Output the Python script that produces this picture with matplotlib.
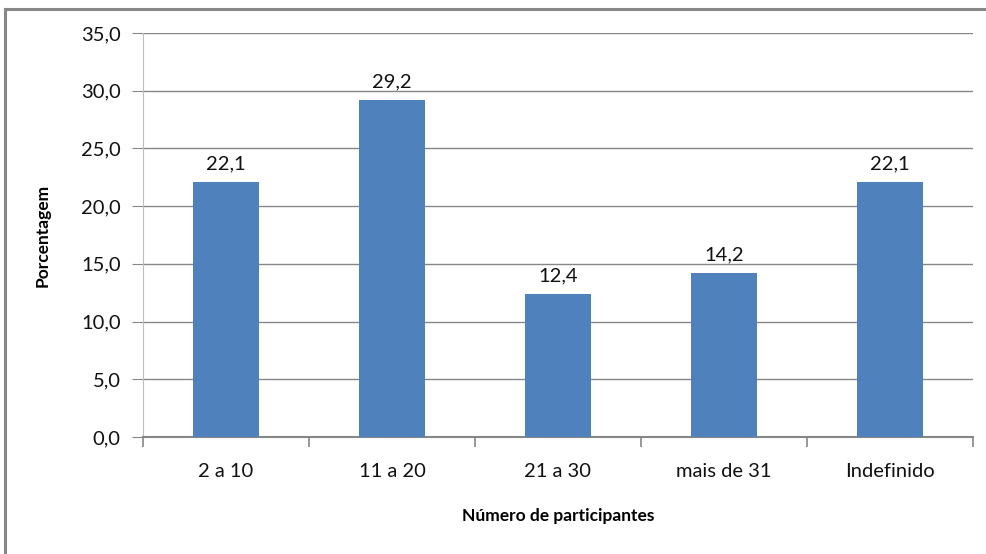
import numpy as np
import matplotlib
matplotlib.use("Agg")
import matplotlib.pyplot as plt
from matplotlib.lines import Line2D

# Dados do grafico
categorias = ['2 a 10', '11 a 20', '21 a 30', 'mais de 31', 'Indefinido']
valores = [22.1, 29.2, 12.4, 14.2, 22.1]
yticks = [0, 5, 10, 15, 20, 25, 30, 35]

plt.rcParams['font.family'] = ['Lato', 'DejaVu Sans']

W, H = 987, 554
fig = plt.figure(figsize=(W / 100, H / 100), dpi=100)
ax = fig.add_axes([143 / W, 1 - 437 / H, (973 - 143) / W, (437 - 33) / H])

# moldura (so lado esquerdo e superior visiveis)
fig.add_artist(Line2D([5.5 / W, 5.5 / W], [0, 1 - 8.5 / H], color='#878787', lw=2.2, transform=fig.transFigure))
fig.add_artist(Line2D([5.5 / W, 1], [1 - 8.5 / H, 1 - 8.5 / H], color='#878787', lw=2.2, transform=fig.transFigure))

x = np.arange(len(categorias))
ax.bar(x, valores, width=0.4, color='#4F81BD', zorder=3)
for xi, v in zip(x, valores):
    ax.text(xi, v + 0.8, f'{v:.1f}'.replace('.', ','), ha='center', va='bottom', fontsize=14.5, color='#111111')

ax.set_xlim(-0.5, len(categorias) - 0.5)
ax.set_ylim(0, 35)
ax.set_yticks(yticks)
ax.set_yticklabels([f'{t:.1f}'.replace('.', ',') for t in yticks])
ax.set_xticks(x)
ax.set_xticklabels(categorias)
ax.set_xticks(np.arange(-0.5, len(categorias), 1), minor=True)

ax.grid(axis='y', color='#868686', lw=1.0, zorder=0)
for s in ['top', 'right']:
    ax.spines[s].set_visible(False)
ax.spines['left'].set_color('#BDBDBD')
ax.spines['bottom'].set_color('#868686')
ax.spines['bottom'].set_linewidth(1.5)
ax.tick_params(axis='y', length=8, color='#868686', labelsize=14.5, pad=8, labelcolor='#111111')
ax.tick_params(axis='x', which='major', length=0, labelsize=14.5, pad=19, labelcolor='#111111')
ax.tick_params(axis='x', which='minor', length=7, color='#868686', width=1.2)

ax.set_ylabel('Porcentagem', fontsize=12.5, fontweight='bold', labelpad=22)
ax.set_xlabel('Número de participantes', fontsize=12.5, fontweight='bold', labelpad=20)

fig.savefig('out.png', dpi=100)
